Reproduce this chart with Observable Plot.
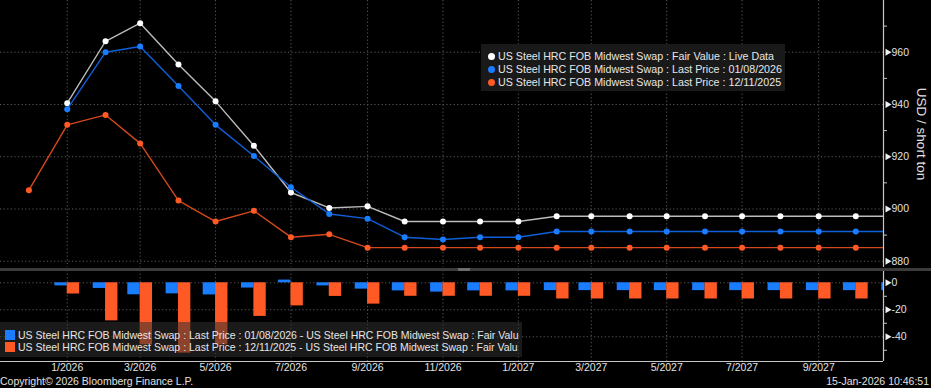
<!DOCTYPE html>
<html><head><meta charset="utf-8">
<script src="https://cdn.jsdelivr.net/npm/d3@7"></script>
<script src="https://cdn.jsdelivr.net/npm/@observablehq/plot@0.6"></script>
<style>
html,body{margin:0;padding:0;background:#000;}
#wrap{position:relative;width:931px;height:388px;background:#000;overflow:hidden;font-family:"Liberation Sans",Arial,sans-serif;color:#e0e0e0;}
#wrap svg{position:absolute;left:0;overflow:visible;}
.leg{position:absolute;white-space:nowrap;overflow:hidden;font-size:10.5px;line-height:13px;color:#e6e6e6;}
.leg .row{display:flex;align-items:center;height:13px;}
.leg .dot{display:inline-block;flex:0 0 7px;width:7px;height:7px;border-radius:50%;margin:0 3px 0 7px;}
.leg .sq{display:inline-block;flex:0 0 10px;width:10px;height:10px;margin:0 3px 0 5px;}
.foot{position:absolute;font-size:10.5px;color:#e0e0e0;white-space:nowrap;}
</style></head><body><div id="wrap"></div>
<script>
// ---- data ----
const months = ["2025-12-01","2026-01-01","2026-02-01","2026-03-01","2026-04-01","2026-05-01","2026-06-01","2026-07-01","2026-08-01","2026-09-01","2026-10-01","2026-11-01","2026-12-01","2027-01-01","2027-02-01","2027-03-01","2027-04-01","2027-05-01","2027-06-01","2027-07-01","2027-08-01","2027-09-01","2027-10-01","2027-11-01"];
const fairValue = [null,940.5,964.2,971.1,955.3,941.2,924.2,906.3,900.4,901.0,895.2,895.2,895.2,895.2,897.2,897.2,897.2,897.2,897.2,897.2,897.2,897.2,897.2,897.2];
const lastJan08 = [null,938.2,960.0,962.2,947.1,932.2,920.3,908.3,898.1,896.3,889.2,888.3,889.2,889.2,891.4,891.4,891.4,891.4,891.4,891.4,891.4,891.4,891.4,891.4];
const lastDec11 = [907.2,932.2,936.0,925.1,903.2,895.2,899.3,889.2,890.3,885.2,885.2,885.2,885.2,885.2,885.2,885.2,885.2,885.2,885.2,885.2,885.2,885.2,885.2,885.2];
const seriesNames = ["US Steel HRC FOB Midwest Swap : Fair Value : Live Data","US Steel HRC FOB Midwest Swap : Last Price : 01/08/2026","US Steel HRC FOB Midwest Swap : Last Price : 12/11/2025"];
const diffNames = ["US Steel HRC FOB Midwest Swap : Last Price : 01/08/2026 - US Steel HRC FOB Midwest Swap : Fair Valu","US Steel HRC FOB Midwest Swap : Last Price : 12/11/2025 - US Steel HRC FOB Midwest Swap : Fair Valu"];
const xTicks = ["2026-01-01","2026-03-01","2026-05-01","2026-07-01","2026-09-01","2026-11-01","2027-01-01","2027-03-01","2027-05-01","2027-07-01","2027-09-01"];
const topTicks = [880,900,920,940,960];
const topMinor = [890,910,930,950,970];
const botTicks = [0,-20,-40];
const botMinor = [-10,-30,-50];
const axisTitle = "USD / short ton";
const copyright = "Copyright\u00A9 2026 Bloomberg Finance L.P.";
const stamp = "15-Jan-2026 10:46:51";

// ---- styles ----
const colors = {white:{line:"#bcbcbc",dot:"#ffffff"},blue:{line:"#0e5fd8",dot:"#1a7cff"},orange:{line:"#d4481c",dot:"#ff5a26"}};
const FONT = "Liberation Sans, Arial, sans-serif";
const parse = d3.utcParse("%Y-%m-%d");
const dates = months.map(parse);
const xDomain = [parse("2025-11-08"), new Date(Date.UTC(2027,9,23,10))];
const gridDates = xTicks.map(parse);
const grid = {stroke:"#5a5a5a", strokeDasharray:"1.2,2.4", strokeWidth:1};

const series = [
  {vals:fairValue, c:colors.white},
  {vals:lastJan08, c:colors.blue},
  {vals:lastDec11, c:colors.orange}
];
const rowsOf = vals => dates.map((d,i)=>({date:d, value:vals[i]})).filter(r=>r.value!=null);

const lineMarks = series.flatMap(s => {
  const rows = rowsOf(s.vals);
  return [
    Plot.line(rows,{x:"date",y:"value",stroke:s.c.line,strokeWidth:1.4,clip:true}),
    Plot.dot(rows,{x:"date",y:"value",fill:s.c.dot,r:3,clip:true})
  ];
});

const wrap = document.getElementById("wrap");

const topPlot = Plot.plot({
  width:931, height:268, marginLeft:0, marginRight:48, marginTop:0, marginBottom:1,
  style:{background:"transparent", color:"#e0e0e0", fontFamily:FONT, fontSize:"10.5px"},
  x:{type:"utc", domain:xDomain, axis:null},
  y:{domain:[877.6,979.8]},
  marks:[
    Plot.ruleY(topTicks,{...grid}),
    Plot.ruleX(gridDates,{...grid}),
    ...lineMarks,
    Plot.ruleX([xDomain[1]],{stroke:"#c8c8c8",strokeWidth:1.2}),
    Plot.axisY(topMinor,{anchor:"right",tickSize:3,stroke:"#c8c8c8",tickFormat:()=>"",label:null}),
    Plot.dot(topTicks,{x:()=>xDomain[1],y:d=>d,symbol:"triangle",rotate:90,r:2.6,fill:"#f0f0f0",dx:4}),
    Plot.text(topTicks,{x:()=>xDomain[1],y:d=>d,text:d=>String(d),dx:8,textAnchor:"start",fill:"#e0e0e0",fontSize:10.5}),
    Plot.text([axisTitle],{frameAnchor:"right",textAnchor:"middle",rotate:90,dx:38,fill:"#e0e0e0",fontSize:13.5})
  ]
});
topPlot.style.top = "0px";
wrap.appendChild(topPlot);

// differences vs fair value (bars)
const diffRows = [];
dates.forEach((d,i)=>{
  if (fairValue[i]==null) return;
  if (lastJan08[i]!=null) diffRows.push({x1:d3.utcDay.offset(d,-10), x2:d, v:lastJan08[i]-fairValue[i], fill:colors.blue.dot});
  if (lastDec11[i]!=null) diffRows.push({x1:d, x2:d3.utcDay.offset(d,10), v:lastDec11[i]-fairValue[i], fill:colors.orange.dot});
});

const botPlot = Plot.plot({
  width:931, height:118, marginLeft:0, marginRight:48, marginTop:0, marginBottom:27,
  style:{background:"transparent", color:"#e0e0e0", fontFamily:FONT, fontSize:"10.5px"},
  x:{type:"utc", domain:xDomain},
  y:{domain:[-58.3,9.1]},
  color:{type:"identity"},
  marks:[
    Plot.ruleY(botTicks,{...grid}),
    Plot.ruleX(gridDates,{...grid}),
    Plot.rect(diffRows,{x1:"x1",x2:"x2",y1:()=>0,y2:"v",fill:"fill",clip:true}),
    Plot.axisX(gridDates,{tickSize:0,tickPadding:2,tickFormat:d3.utcFormat("%-m/%Y"),fill:"#e0e0e0",fontSize:10.5,label:null}),
    Plot.ruleY([-58.3],{stroke:"#c8c8c8",strokeWidth:1.2}),
    Plot.ruleX([xDomain[1]],{stroke:"#c8c8c8",strokeWidth:1.2}),
    Plot.axisY(botMinor,{anchor:"right",tickSize:3,stroke:"#c8c8c8",tickFormat:()=>"",label:null}),
    Plot.dot(botTicks,{x:()=>xDomain[1],y:d=>d,symbol:"triangle",rotate:90,r:2.6,fill:"#f0f0f0",dx:4}),
    Plot.text(botTicks,{x:()=>xDomain[1],y:d=>d,text:d=>String(d),dx:8,textAnchor:"start",fill:"#e0e0e0",fontSize:10.5})
  ]
});
botPlot.style.top = "270px";
wrap.appendChild(botPlot);

// separator band
const sep = document.createElement("div");
sep.style.cssText = "position:absolute;left:0;top:268px;width:931px;height:3px;background:#3c3c3c;";
const handle = document.createElement("div");
handle.style.cssText = "position:absolute;left:458px;top:0;width:12px;height:3px;background:#6c6c6c;";
sep.appendChild(handle);
wrap.appendChild(sep);

// top legend
const tl = document.createElement("div");
tl.className = "leg";
tl.style.cssText += "left:481px;top:44px;width:304px;height:47px;background:rgba(26,26,26,0.95);padding-top:6px;box-sizing:border-box;font-size:10.7px;";
[colors.white.dot, colors.blue.dot, colors.orange.dot].forEach((c,i)=>{
  const r = document.createElement("div"); r.className="row";
  r.innerHTML = `<span class="dot" style="background:${c}"></span><span>${seriesNames[i]}</span>`;
  tl.appendChild(r);
});
wrap.appendChild(tl);

// bottom legend
const bl = document.createElement("div");
bl.className = "leg";
bl.style.cssText += "left:0;top:322px;width:522px;height:35px;background:rgba(47,47,47,0.55);padding-top:6.5px;box-sizing:border-box;line-height:12.4px;";
[colors.blue.dot, colors.orange.dot].forEach((c,i)=>{
  const r = document.createElement("div"); r.className="row"; r.style.height="12.4px";
  r.innerHTML = `<span class="sq" style="background:${c}"></span><span>${diffNames[i]}</span>`;
  bl.appendChild(r);
});
wrap.appendChild(bl);

// footer
const f1 = document.createElement("div"); f1.className="foot"; f1.textContent=copyright;
f1.style.cssText += "left:0px;top:375px;";
wrap.appendChild(f1);
const f2 = document.createElement("div"); f2.className="foot"; f2.textContent=stamp;
f2.style.cssText += "right:2px;top:375px;";
wrap.appendChild(f2);
</script></body></html>
